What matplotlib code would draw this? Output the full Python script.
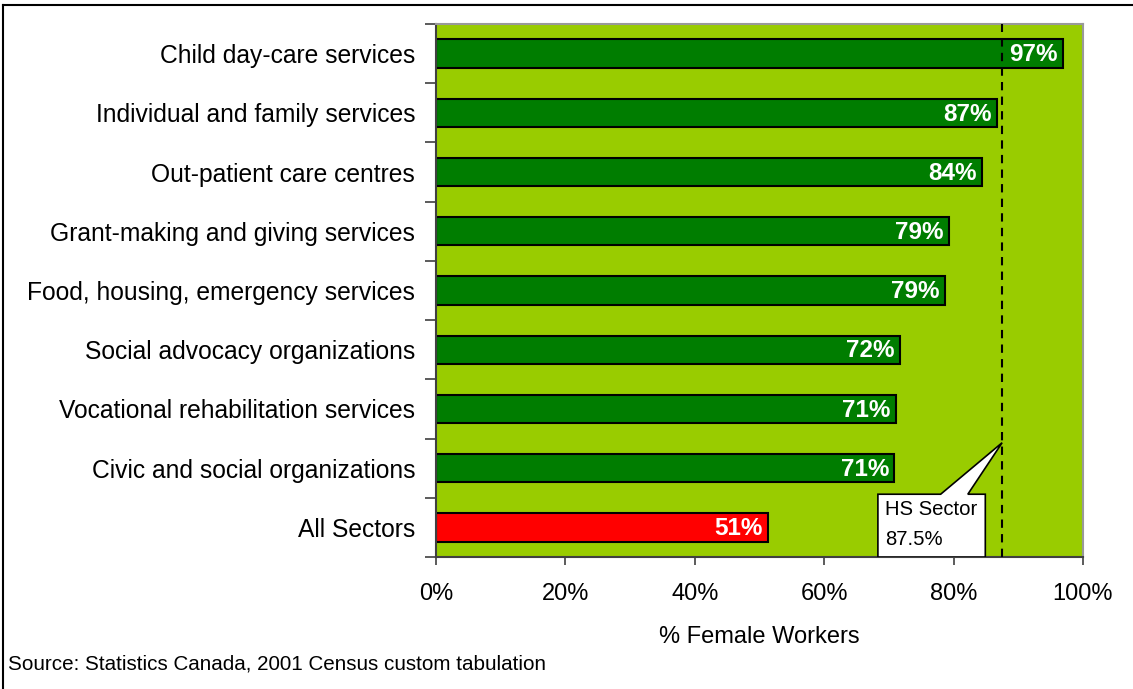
import matplotlib.pyplot as plt
from matplotlib.patches import Polygon
from matplotlib.lines import Line2D

plt.rcParams['font.family'] = ['Liberation Sans', 'DejaVu Sans']

sectores = ["Child day-care services", "Individual and family services",
            "Out-patient care centres", "Grant-making and giving services",
            "Food, housing, emergency services", "Social advocacy organizations",
            "Vocational rehabilitation services", "Civic and social organizations",
            "All Sectors"]
porcentajes = [96.9, 86.7, 84.4, 79.3, 78.6, 71.7, 71.1, 70.8, 51.3]
colores = ["#007D00"] * 8 + ["#FF0000"]
hs_sector = 87.5
ticks_x = [0, 20, 40, 60, 80, 100]

fig = plt.figure(figsize=(11.33, 6.89), dpi=100)
ax = fig.add_axes([436 / 1133, 1 - 557 / 689, 647 / 1133, 533 / 689])
ax.set_facecolor("#99CC00")

y = list(range(len(sectores)))
ax.barh(y, porcentajes, height=0.48, color=colores, edgecolor="black", linewidth=1.5, zorder=2)

# etiquetas de valor dentro de cada barra
for yi, v in zip(y, porcentajes):
    ax.text(v - 0.8, yi + 0.02, f"{v:.0f}%", ha="right", va="center", color="white",
            fontsize=17.5, fontweight="bold", zorder=3)

ax.set_xlim(0, 100)
ax.set_ylim(len(sectores) - 0.5, -0.5)
ax.set_xticks(ticks_x)
ax.set_xticklabels([f"{t}%" for t in ticks_x], fontsize=17)
ax.set_yticks(y)
ax.set_yticklabels(sectores, fontsize=17.7)
ax.tick_params(axis="y", length=0, pad=15)
ax.set_yticks([i - 0.5 for i in range(len(sectores) + 1)], minor=True)
ax.tick_params(axis="y", which="minor", length=8, color="#404040", width=1.2)
ax.tick_params(axis="x", length=6, color="#404040", width=1.2, pad=12.5)
ax.set_xlabel("% Female Workers", fontsize=17, labelpad=15)

for lado in ["top", "right"]:
    ax.spines[lado].set_color("#999999")
    ax.spines[lado].set_linewidth(1.5)
for lado in ["left", "bottom"]:
    ax.spines[lado].set_color("#404040")
    ax.spines[lado].set_linewidth(1.5)

# linea del sector HS
ax.axvline(hs_sector, color="black", linestyle=(0, (4, 3)), linewidth=1.5, zorder=4)

# globo de texto
globo = Polygon([(68.3, 8.5), (68.3, 7.44), (78.0, 7.44), (hs_sector, 6.57),
                 (82.2, 7.44), (84.9, 7.44), (84.9, 8.5)],
                closed=True, facecolor="white", edgecolor="black", linewidth=1.2, zorder=5)
ax.add_patch(globo)
ax.text(69.4, 7.53, "HS Sector\n87.5%", ha="left", va="top", fontsize=14.6,
        linespacing=1.75, zorder=6)

fig.text(8 / 1133, 1 - 664 / 689, "Source: Statistics Canada, 2001 Census custom tabulation",
         fontsize=14.9, ha="left", va="center")

# borde de la figura
fig.add_artist(Line2D([3 / 1133, 3 / 1133], [0, 1 - 5 / 689], color="black", linewidth=1.5,
                      transform=fig.transFigure))
fig.add_artist(Line2D([3 / 1133, 1], [1 - 5 / 689, 1 - 5 / 689], color="black", linewidth=1.5,
                      transform=fig.transFigure))

plt.savefig("out.png", dpi=100)
